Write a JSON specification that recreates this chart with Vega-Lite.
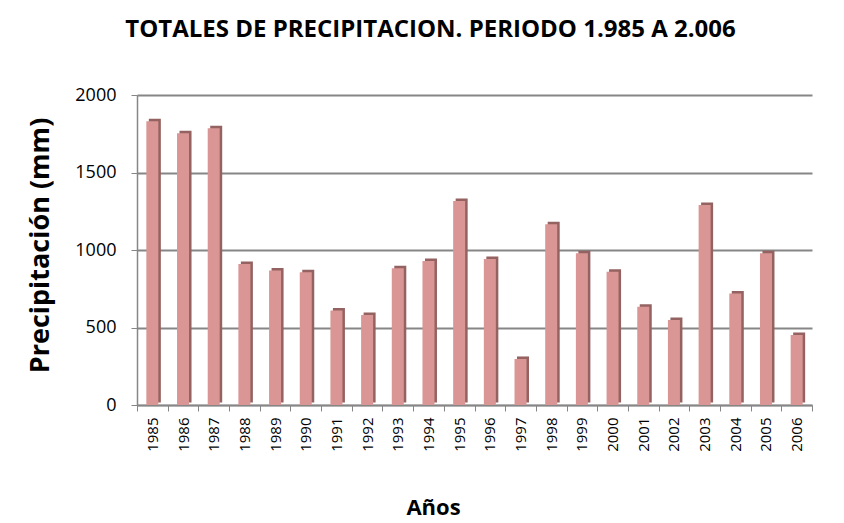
{
  "$schema": "https://vega.github.io/schema/vega-lite/v6.json",
  "autosize": "none",
  "width": 675,
  "height": 310,
  "padding": {"left": 137, "top": 95, "right": 32, "bottom": 118},
  "background": "white",
  "title": {
    "text": "TOTALES DE PRECIPITACION. PERIODO 1.985 A 2.006",
    "font": "Open Sans",
    "fontSize": 24,
    "fontWeight": "bold",
    "color": "#000000",
    "anchor": "middle",
    "dx": -44,
    "offset": 44
  },
  "data": {
    "values": [
      {"anio": "1985", "mm": 1830},
      {"anio": "1986", "mm": 1753},
      {"anio": "1987", "mm": 1785},
      {"anio": "1988", "mm": 910},
      {"anio": "1989", "mm": 867},
      {"anio": "1990", "mm": 856},
      {"anio": "1991", "mm": 609},
      {"anio": "1992", "mm": 581},
      {"anio": "1993", "mm": 882},
      {"anio": "1994", "mm": 929},
      {"anio": "1995", "mm": 1316},
      {"anio": "1996", "mm": 942},
      {"anio": "1997", "mm": 297},
      {"anio": "1998", "mm": 1166},
      {"anio": "1999", "mm": 979},
      {"anio": "2000", "mm": 860},
      {"anio": "2001", "mm": 634},
      {"anio": "2002", "mm": 548},
      {"anio": "2003", "mm": 1290},
      {"anio": "2004", "mm": 720},
      {"anio": "2005", "mm": 979},
      {"anio": "2006", "mm": 452}
    ]
  },
  "encoding": {
    "x": {
      "field": "anio",
      "type": "ordinal",
      "title": "Años",
      "scale": {"paddingInner": 0, "paddingOuter": 0},
      "axis": {
        "labelAngle": -90,
        "labelFont": "Open Sans",
        "labelFontSize": 15,
        "labelColor": "#000000",
        "labelPadding": 6,
        "tickBand": "extent",
        "tickColor": "#868686",
        "tickSize": 6,
        "domainColor": "#868686",
        "domainWidth": 1.5,
        "titleFont": "Open Sans",
        "titleFontSize": 22,
        "titleFontWeight": "bold",
        "titleColor": "#000000",
        "titlePadding": 46,
        "titleX": 296,
        "titleAlign": "center",
        "grid": false
      }
    },
    "y": {
      "field": "mm",
      "type": "quantitative",
      "title": "Precipitación (mm)",
      "scale": {"domain": [0, 2000], "nice": false},
      "axis": {
        "values": [0, 500, 1000, 1500, 2000],
        "format": "d",
        "labelFont": "Open Sans",
        "labelFontSize": 18,
        "labelColor": "#000000",
        "labelPadding": 15,
        "tickColor": "#868686",
        "tickSize": 6,
        "domainColor": "#868686",
        "domainWidth": 1.5,
        "gridColor": "#868686",
        "gridWidth": 2,
        "titleFont": "Open Sans",
        "titleFontSize": 27,
        "titleFontWeight": "bold",
        "titleColor": "#000000",
        "titlePadding": 20,
        "titleY": 150,
        "titleAlign": "center"
      }
    }
  },
  "layer": [
    {
      "mark": {"type": "bar", "width": 12, "xOffset": 2.5, "yOffset": -2.5, "color": "#946261"}
    },
    {
      "mark": {"type": "bar", "width": 12, "color": "#D99694"}
    }
  ],
  "config": {"view": {"stroke": null}}
}
